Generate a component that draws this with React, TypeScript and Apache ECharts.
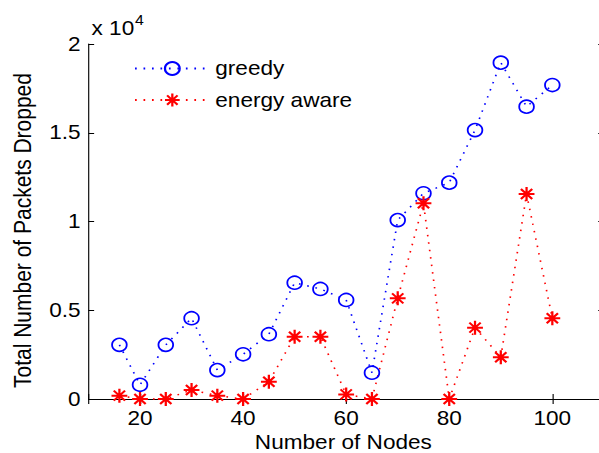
import { useEffect, useRef } from 'react';
import * as echarts from 'echarts';

const nodes = [16, 20, 25, 30, 35, 40, 45, 50, 55, 60, 65, 70, 75, 80, 85, 90, 95, 100];
const greedy = [3050, 800, 3050, 4550, 1630, 2520, 3650, 6550, 6200, 5580, 1480, 10080, 11590, 12190, 15150, 18950, 16470, 17690];
const energyAware = [190, 0, 0, 510, 190, 0, 970, 3510, 3510, 260, 0, 5670, 11030, 0, 4020, 2350, 11550, 4550];
const xTickLabels = [20, 40, 60, 80, 100];
const yTickLabels = ['0', '0.5', '1', '1.5', '2'];
const seriesNames = ['greedy', 'energy aware'];

const FONT = "'Liberation Sans', Arial, Helvetica, sans-serif";
const STRETCH = 1.13;
const W = 545;
const H = 453;

const STAR = 'path://M0,-7L0,7M-7,0L7,0M-5,-5L5,5M-5,5L5,-5';

export default function App() {
  const ref = useRef<HTMLDivElement>(null);

  useEffect(() => {
    if (!ref.current) return;
    const chart = echarts.init(ref.current, undefined, { renderer: 'svg' });
    const axisLine = { show: true, lineStyle: { color: '#000', width: 1 } };
    const tickX = { show: true, inside: true, length: 5, lineStyle: { color: '#000', width: 1 } };
    const tickY = { show: true, inside: true, length: 5, lineStyle: { color: '#000', width: 1 } };
    const xCommon = {
      type: 'value' as const,
      min: 10,
      max: 110,
      splitNumber: 5,
      splitLine: { show: false },
      axisLine,
      axisTick: tickX,
    };
    const yCommon = {
      type: 'value' as const,
      min: 0,
      max: 20000,
      interval: 5000,
      splitLine: { show: false },
      axisLine,
      axisTick: tickY,
    };
    chart.setOption({
      animation: false,
      backgroundColor: '#fff',
      grid: { left: 78.3, top: 44, width: 456.1, height: 355, containLabel: false, outerBoundsMode: 'none' },
      xAxis: [
        {
          ...xCommon,
          position: 'bottom',
          name: 'Number of Nodes',
          nameLocation: 'middle',
          nameGap: 32.5,
          nameTextStyle: { fontFamily: FONT, fontSize: 20, color: '#000', padding: [0, 5, 0, 0] },
          axisLabel: {
            show: true,
            margin: 9,
            fontFamily: FONT,
            fontSize: 20,
            color: '#000',
            formatter: (v: number) => (xTickLabels.includes(v) ? String(v) : ''),
          },
        },
        {
          ...xCommon,
          position: 'top',
          axisLabel: { show: false },
        },
      ],
      yAxis: [
        {
          ...yCommon,
          position: 'left',
          axisLabel: {
            show: true,
            margin: 7,
            fontFamily: FONT,
            fontSize: 20,
            color: '#000',
            formatter: (v: number) => yTickLabels[Math.round(v / 5000)] ?? '',
          },
        },
        {
          ...yCommon,
          position: 'right',
          axisLabel: { show: false },
        },
      ],
      legend: {
        orient: 'vertical',
        left: 118.5,
        top: 58.5,
        padding: 0,
        itemWidth: 66,
        itemHeight: 16.25,
        itemGap: 11.55,
        data: seriesNames,
        textStyle: { fontFamily: FONT, fontSize: 20, color: '#000', lineHeight: 16.25 },
      },
      graphic: [
        {
          type: 'text',
          x: 20.6,
          y: 230.5,
          rotation: Math.PI / 2,
          style: {
            text: 'Total Number of Packets Dropped',
            fontFamily: FONT,
            fontSize: 21,
            fill: '#000',
            align: 'center',
            verticalAlign: 'middle',
          },
        },
        {
          type: 'text',
          x: 81,
          y: 28,
          style: { text: 'x 10', fontFamily: FONT, fontSize: 20, fill: '#000', align: 'left', verticalAlign: 'middle' },
        },
        {
          type: 'text',
          x: 119.5,
          y: 20,
          style: { text: '4', fontFamily: FONT, fontSize: 14, fill: '#000', align: 'left', verticalAlign: 'middle' },
        },
      ],
      series: [
        {
          name: seriesNames[0],
          type: 'line',
          xAxisIndex: 0,
          yAxisIndex: 0,
          clip: false,
          data: nodes.map((x, i) => [x, greedy[i]]),
          symbol: 'circle',
          symbolSize: 13,
          itemStyle: { color: 'rgba(0,0,0,0)', borderColor: '#0000ff', borderWidth: 1.6 },
          lineStyle: { color: '#0000ff', width: 1.5, type: [1.5, 6] },
        },
        {
          name: seriesNames[1],
          type: 'line',
          xAxisIndex: 0,
          yAxisIndex: 0,
          clip: false,
          data: nodes.map((x, i) => [x, energyAware[i]]),
          symbol: STAR,
          symbolSize: 14,
          itemStyle: { color: '#ff0000', borderColor: '#ff0000', borderWidth: 2 },
          lineStyle: { color: '#ff0000', width: 1.5, type: [1.5, 6] },
        },
      ],
    });
    return () => chart.dispose();
  }, []);

  return (
    <div style={{ position: 'fixed', left: 0, top: 0, width: 599, height: 453, overflow: 'hidden', background: '#fff' }}>
      <div
        ref={ref}
        style={{ width: W, height: H, transform: `scaleX(${STRETCH})`, transformOrigin: '0 0' }}
      />
    </div>
  );
}
